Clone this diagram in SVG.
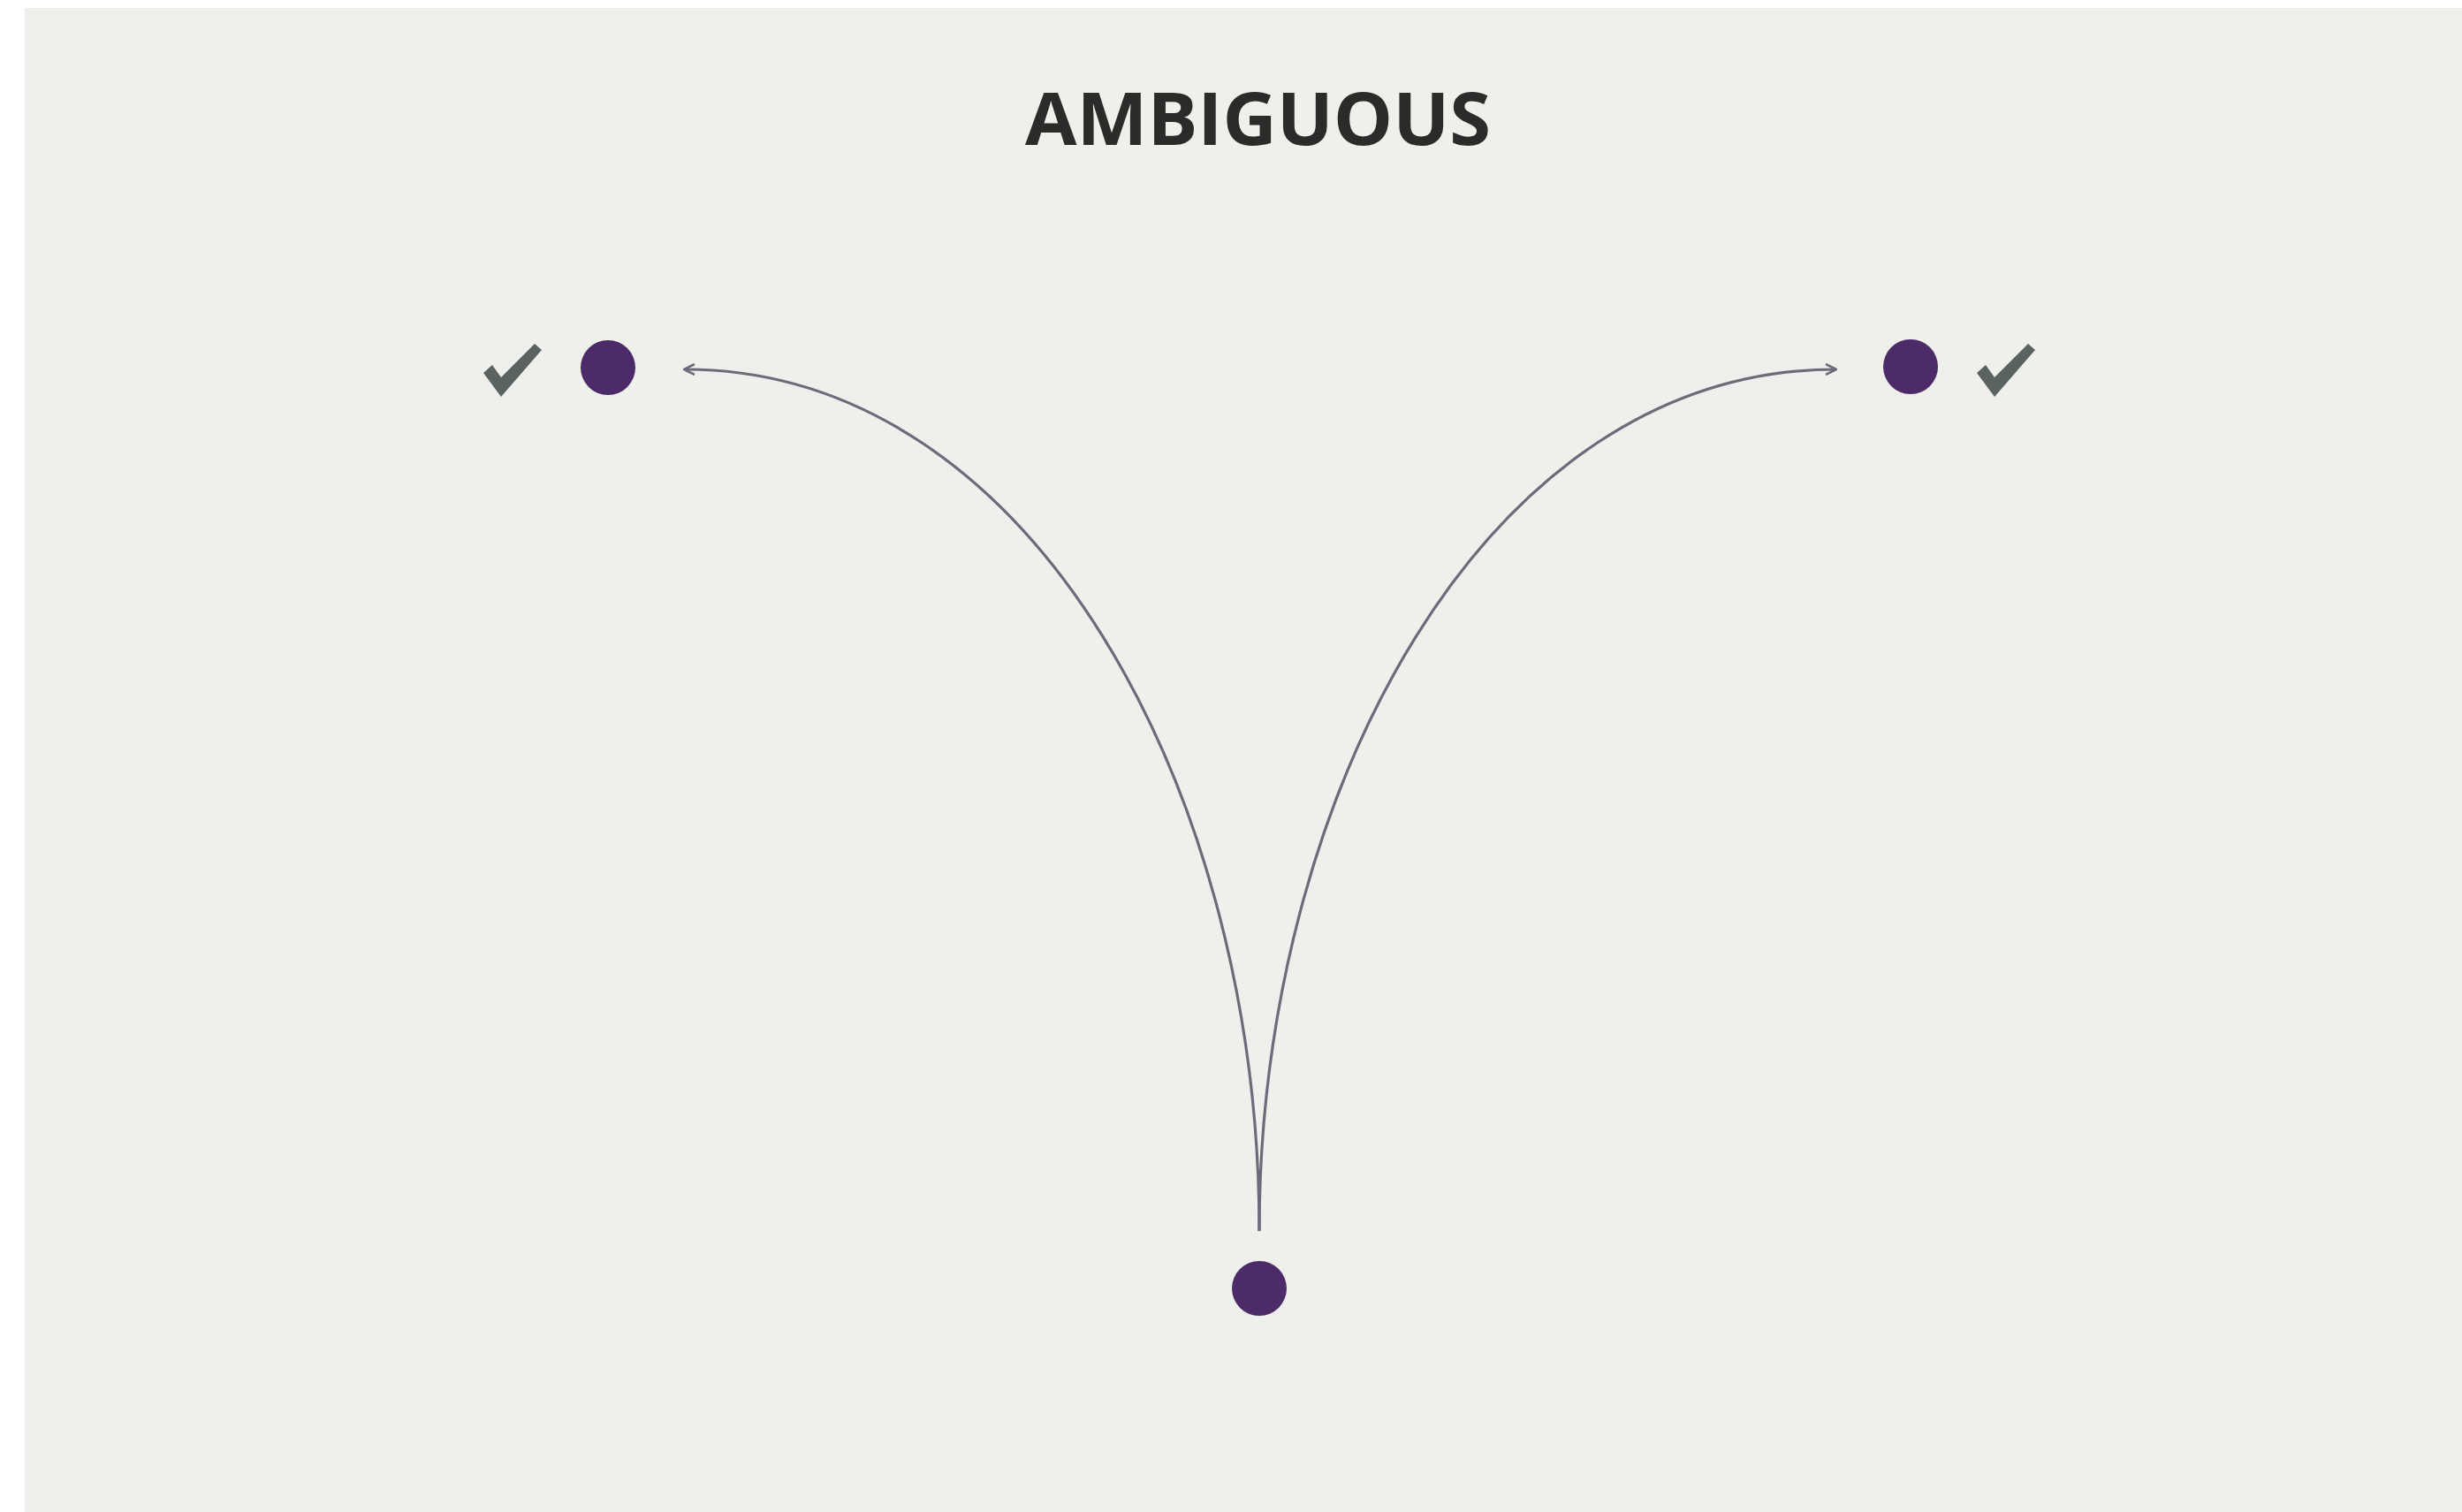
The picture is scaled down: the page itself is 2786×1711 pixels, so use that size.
<svg xmlns="http://www.w3.org/2000/svg" width="2786" height="1711" viewBox="0 0 2786 1711">
<style>
.node{fill:#4d2a68}
.check{fill:#5a6262}
.conn{fill:none;stroke:#6f6a7a;stroke-width:3.2}
.title{font-family:"Open Sans","Liberation Sans",sans-serif;font-weight:700;font-size:83px;fill:#2a2c2a}
</style>
<defs>
<marker id="arr" viewBox="0 0 14 14" refX="12" refY="7" markerWidth="14" markerHeight="14" markerUnits="userSpaceOnUse" orient="auto">
<path d="M1,1 L13,7 L1,13" fill="none" stroke="#6f6a7a" stroke-width="2.6"/>
</marker>
</defs>
<rect x="0" y="0" width="2786" height="1711" fill="#ffffff"/>
<rect x="28" y="9" width="2758" height="1702" fill="#eff0ec"/>
<text class="title" x="1160" y="164" textLength="527" lengthAdjust="spacingAndGlyphs">AMBIGUOUS</text>
<g id="connectors">
<path class="conn" d="M1425,1393 C1425,900 1170,418 775,418" marker-end="url(#arr)"/>
<path class="conn" d="M1425,1393 C1425,900 1680,418 2077,418" marker-end="url(#arr)"/>
</g>
<g id="node-left">
<circle class="node" cx="688" cy="416" r="31"/>
<path class="check" d="M547,422 L557,413 L567,427 L605,389 L613,396 L567,449 Z"/>
</g>
<g id="node-right">
<circle class="node" cx="2162" cy="415" r="31"/>
<path class="check" d="M2237,422 L2247,413 L2257,427 L2295,389 L2303,396 L2257,449 Z"/>
</g>
<g id="node-bottom">
<circle class="node" cx="1425" cy="1458" r="31"/>
</g>
</svg>
